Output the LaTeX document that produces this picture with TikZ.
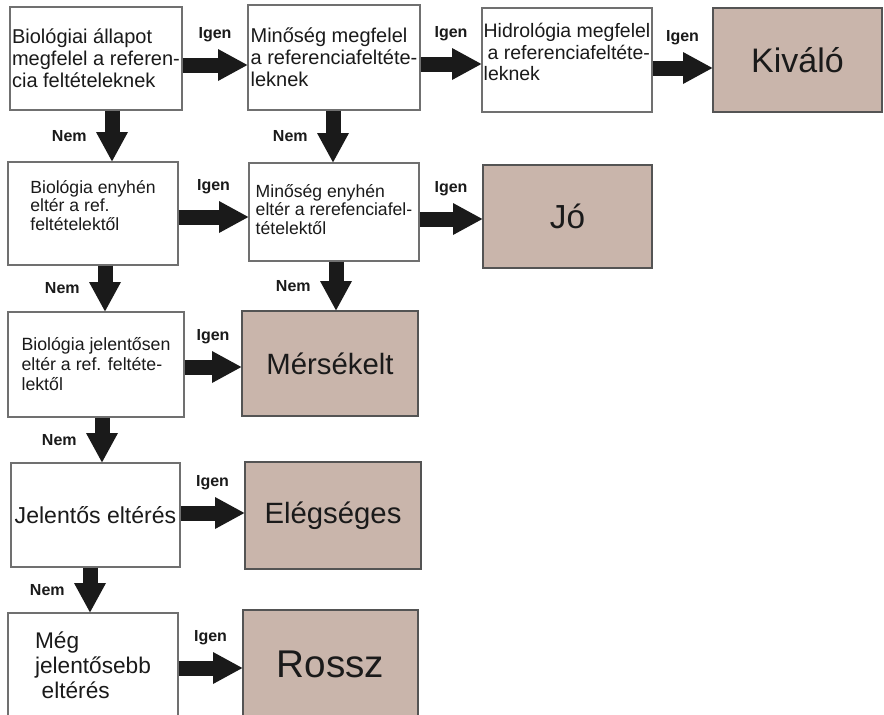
\documentclass[tikz,border=0pt]{standalone}
\usepackage{fontspec}
\setmainfont{Liberation Sans}
\usetikzlibrary{arrows.meta}
\definecolor{resfill}{RGB}{201,181,171}
\definecolor{boxline}{RGB}{112,112,112}
\definecolor{ink}{RGB}{26,26,26}

\begin{document}
\begin{tikzpicture}[x=0.75pt, y=-0.75pt]
\tikzstyle{every node} = [text=ink, inner sep=0pt]
\tikzstyle{cond} = [draw=boxline, line width=1pt, fill=white, align=left]
\tikzstyle{res} = [draw=boxline!75!black, line width=1pt, fill=resfill]
\tikzstyle{flow} = [draw=ink, line width=11.25pt, -{Triangle[width=24pt,length=22pt,line width=0pt]}]
\tikzstyle{lbl} = [font=\fontsize{12}{12}\selectfont\bfseries]
\useasboundingbox (0,0) rectangle (884,714);
\clip (0,0) rectangle (884,714);

% top row
\node[cond, minimum width=129pt, minimum height=77.25pt, font=\fontsize{15}{16.5}\selectfont] (b1) at (96,58.5) {Biológiai állapot\\megfelel a referen-\\cia feltételeknek};
\node[cond, minimum width=129pt, minimum height=78.75pt, font=\fontsize{15}{16.5}\selectfont] (b2) at (334,57.5) {Minőség megfelel\\a referenciafeltéte-\\leknek};
\node[cond, minimum width=127.5pt, minimum height=78pt, text depth=12pt, font=\fontsize{14.6}{16}\selectfont] (b3) at (567,60) {Hidrológia megfelel\\\hspace*{3pt}a referenciafeltéte-\\leknek};
\node[res, minimum width=126.75pt, minimum height=78pt, font=\fontsize{25.5}{26}\selectfont] (r1) at (797.5,60) {Kiváló};

% second row
\node[cond, minimum width=127.5pt, minimum height=77.25pt, text depth=12pt, font=\fontsize{13.2}{14}\selectfont] (b4) at (93,213.5) {Biológia enyhén\\eltér a ref.\\feltételektől};
\node[cond, minimum width=127.5pt, minimum height=73.5pt, text depth=4pt, font=\fontsize{13.2}{14}\selectfont] (b5) at (334,212) {Minőség enyhén\\eltér a rerefenciafel-\\tételektől};
\node[res, minimum width=126.75pt, minimum height=77.25pt, font=\fontsize{25}{26}\selectfont] (r2) at (567.5,216.5) {Jó};

% third row
\node[cond, minimum width=132pt, minimum height=78.75pt, font=\fontsize{13.3}{15}\selectfont] (b6) at (96,364.5) {Biológia jelentősen\\eltér a ref. feltéte-\\lektől};
\node[res, minimum width=132pt, minimum height=78.75pt, font=\fontsize{22}{24}\selectfont] (r3) at (330,363.5) {Mérsékelt};

% fourth row
\node[cond, minimum width=126.75pt, minimum height=78pt, font=\fontsize{17.3}{19}\selectfont] (b7) at (95.5,515) {Jelentős eltérés};
\node[res, minimum width=132pt, minimum height=80.25pt, font=\fontsize{22}{24}\selectfont] (r4) at (333,515.5) {Elégséges};

% last row
\node[cond, minimum width=127.5pt, minimum height=78pt, font=\fontsize{17}{18.75}\selectfont] (b8) at (93,665) {Még\\jelentősebb\\\hspace*{5pt}eltérés};
\node[res, minimum width=131.25pt, minimum height=81pt, font=\fontsize{29}{30}\selectfont] (r5) at (330.5,664) {Rossz};

% Igen arrows
\foreach \from/\to/\y in {b1/b2/65, b2/b3/64, b3/r1/68, b4/b5/217, b5/r2/219, b6/r3/367, b7/r4/513, b8/r5/668}
\draw [flow] (\from.east |- 0,\y) -- (\to.west |- 0,\y) node[lbl, midway, yshift=23pt] {Igen};

% Nem arrows
\foreach \from/\to/\x in {b1/b4/112, b2/b5/333, b4/b6/105, b5/r3/336, b6/b7/102, b7/b8/90}
\draw [flow] (\from.south -| \x,0) -- (\to.north -| \x,0) node[lbl, midway, xshift=-32pt] {Nem};
\end{tikzpicture}
\end{document}
